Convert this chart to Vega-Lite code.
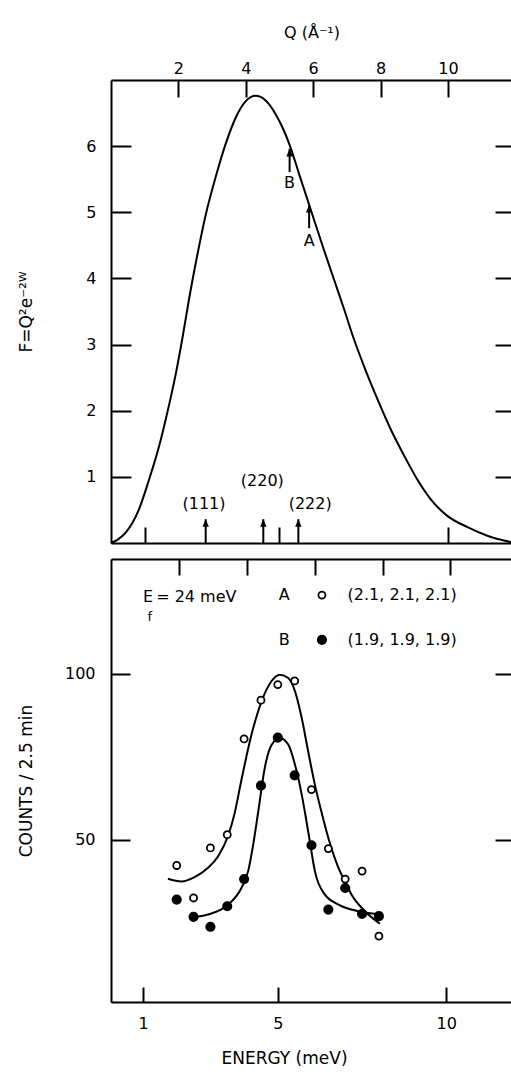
{
  "$schema": "https://vega.github.io/schema/vega-lite/v6.json",
  "background": "white",
  "padding": {"left": 17, "top": 24, "right": 0, "bottom": 0},
  "spacing": 11,
  "config": {
    "view": {"stroke": null},
    "font": "DejaVu Sans",
    "axis": {
      "grid": false,
      "domainColor": "black", "domainWidth": 2,
      "tickColor": "black", "tickWidth": 2,
      "labelColor": "black", "titleColor": "black",
      "labelFont": "DejaVu Sans", "titleFont": "DejaVu Sans",
      "labelFontSize": 16, "titleFontSize": 16, "titleFontWeight": "normal",
      "labelFlush": false
    }
  },
  "datasets": {
    "curve": [
      {"q": 0, "f": 0}, {"q": 0.2, "f": 0.05}, {"q": 0.44, "f": 0.16}, {"q": 0.83, "f": 0.51},
      {"q": 1.13, "f": 0.96}, {"q": 1.43, "f": 1.47}, {"q": 1.67, "f": 1.97}, {"q": 1.92, "f": 2.55},
      {"q": 2.12, "f": 3.1}, {"q": 2.32, "f": 3.7}, {"q": 2.56, "f": 4.35}, {"q": 2.81, "f": 4.96},
      {"q": 3.11, "f": 5.54}, {"q": 3.4, "f": 6.03}, {"q": 3.7, "f": 6.43}, {"q": 4.0, "f": 6.68},
      {"q": 4.29, "f": 6.76}, {"q": 4.59, "f": 6.69}, {"q": 4.89, "f": 6.48}, {"q": 5.1, "f": 6.27},
      {"q": 5.3, "f": 6.02}, {"q": 5.6, "f": 5.55}, {"q": 6.03, "f": 4.88}, {"q": 6.32, "f": 4.43},
      {"q": 6.62, "f": 3.98}, {"q": 6.92, "f": 3.53}, {"q": 7.21, "f": 3.08}, {"q": 7.51, "f": 2.67},
      {"q": 7.91, "f": 2.17}, {"q": 8.3, "f": 1.72}, {"q": 8.7, "f": 1.32}, {"q": 9.09, "f": 0.96},
      {"q": 9.49, "f": 0.66}, {"q": 9.98, "f": 0.41}, {"q": 10.58, "f": 0.24}, {"q": 11.17, "f": 0.11},
      {"q": 11.9, "f": 0.01}
    ],
    "arrows": [
      {"q": 5.30, "tip": 5.96, "base": 5.61},
      {"q": 5.88, "tip": 5.11, "base": 4.76},
      {"q": 2.81, "tip": 0.36, "base": 0},
      {"q": 4.52, "tip": 0.36, "base": 0},
      {"q": 5.56, "tip": 0.36, "base": 0}
    ],
    "toplabels": [
      {"q": 5.30, "f": 5.44, "t": "B"},
      {"q": 5.88, "f": 4.57, "t": "A"},
      {"q": 2.76, "f": 0.59, "t": "(111)"},
      {"q": 4.49, "f": 0.94, "t": "(220)"},
      {"q": 5.91, "f": 0.59, "t": "(222)"}
    ],
    "fitA": [
      {"e": 1.74, "c": 38.2}, {"e": 2.14, "c": 37.4}, {"e": 2.53, "c": 38.7}, {"e": 2.93, "c": 41.5},
      {"e": 3.23, "c": 45.0}, {"e": 3.53, "c": 51.3}, {"e": 3.72, "c": 58.0}, {"e": 3.92, "c": 68.0},
      {"e": 4.22, "c": 81.7}, {"e": 4.52, "c": 91.8}, {"e": 4.81, "c": 97.8}, {"e": 5.06, "c": 99.8},
      {"e": 5.31, "c": 98.8}, {"e": 5.51, "c": 94.8}, {"e": 5.71, "c": 86.7}, {"e": 5.90, "c": 76.7},
      {"e": 6.10, "c": 66.6}, {"e": 6.30, "c": 58.2}, {"e": 6.50, "c": 50.5}, {"e": 6.80, "c": 41.5},
      {"e": 7.00, "c": 37.2}, {"e": 7.19, "c": 33.4}, {"e": 7.59, "c": 28.4}, {"e": 8.03, "c": 24.6}
    ],
    "fitB": [
      {"e": 2.49, "c": 26.6}, {"e": 2.93, "c": 27.4}, {"e": 3.53, "c": 30.4}, {"e": 3.92, "c": 35.4},
      {"e": 4.12, "c": 40.5}, {"e": 4.27, "c": 48.5}, {"e": 4.42, "c": 58.5}, {"e": 4.62, "c": 72.0},
      {"e": 4.81, "c": 78.5}, {"e": 5.06, "c": 80.7}, {"e": 5.31, "c": 78.7}, {"e": 5.51, "c": 72.6},
      {"e": 5.71, "c": 63.6}, {"e": 5.85, "c": 55.6}, {"e": 5.95, "c": 49.5}, {"e": 6.10, "c": 40.5},
      {"e": 6.40, "c": 33.4}, {"e": 6.80, "c": 30.4}, {"e": 7.39, "c": 28.4}, {"e": 8.08, "c": 27.4}
    ],
    "obs": [
      {"series": "A", "e": 2.0, "c": 42.2}, {"series": "A", "e": 2.5, "c": 32.4}, {"series": "A", "e": 3.0, "c": 47.5},
      {"series": "A", "e": 3.5, "c": 51.5}, {"series": "A", "e": 4.0, "c": 80.4}, {"series": "A", "e": 4.5, "c": 92.1},
      {"series": "A", "e": 5.0, "c": 96.8}, {"series": "A", "e": 5.5, "c": 97.9}, {"series": "A", "e": 6.0, "c": 65.1},
      {"series": "A", "e": 6.5, "c": 47.3}, {"series": "A", "e": 7.0, "c": 38.1}, {"series": "A", "e": 7.5, "c": 40.5},
      {"series": "A", "e": 8.0, "c": 20.9},
      {"series": "B", "e": 2.0, "c": 31.9}, {"series": "B", "e": 2.5, "c": 26.7}, {"series": "B", "e": 3.0, "c": 23.7},
      {"series": "B", "e": 3.5, "c": 29.9}, {"series": "B", "e": 4.0, "c": 38.1}, {"series": "B", "e": 4.5, "c": 66.3},
      {"series": "B", "e": 5.0, "c": 80.8}, {"series": "B", "e": 5.5, "c": 69.4}, {"series": "B", "e": 6.0, "c": 48.3},
      {"series": "B", "e": 6.5, "c": 28.9}, {"series": "B", "e": 7.0, "c": 35.4}, {"series": "B", "e": 7.5, "c": 27.6},
      {"series": "B", "e": 8.0, "c": 26.9}
    ],
    "legendrows": [
      {"series": "A", "label": "A", "coords": "(2.1, 2.1, 2.1)", "e_label": 5.19, "e_sym": 6.31, "e_txt": 7.07, "c": 123.8},
      {"series": "B", "label": "B", "coords": "(1.9, 1.9, 1.9)", "e_label": 5.19, "e_sym": 6.31, "e_txt": 7.07, "c": 110.3}
    ],
    "efmain": [
      {"e": 1.0, "c": 123.2, "t": "E"},
      {"e": 1.39, "c": 123.2, "t": "= 24 meV"}
    ],
    "efsub": [
      {"e": 1.2, "c": 117.2, "t": "f"}
    ]
  },
  "vconcat": [
    {
      "width": 401,
      "height": 463,
      "layer": [
        {
          "data": {"name": "curve"},
          "mark": {"type": "line", "color": "black", "strokeWidth": 2, "interpolate": "monotone"},
          "encoding": {
            "x": {"field": "q", "type": "quantitative",
              "scale": {"domain": [0, 11.9], "nice": false, "zero": false},
              "axis": {"orient": "top", "values": [2, 4, 6, 8, 10], "tickSize": -17, "labelPadding": 21,
                "title": "Q (Å⁻¹)", "titlePadding": 20}},
            "y": {"field": "f", "type": "quantitative",
              "scale": {"domain": [0, 7], "nice": false},
              "axis": {"orient": "left", "values": [1, 2, 3, 4, 5, 6], "tickSize": -20, "labelPadding": 35,
                "title": "F=Q²e⁻²ᵂ", "titleFontSize": 17, "titlePadding": 50}}
          }
        },
        {
          "data": {"name": "arrows"},
          "mark": {"type": "rule", "color": "black", "strokeWidth": 2},
          "encoding": {
            "x": {"field": "q", "type": "quantitative",
              "axis": {"orient": "bottom", "values": [1, 5, 10], "tickSize": -16, "labels": false, "title": null}},
            "y": {"field": "base", "type": "quantitative",
              "axis": {"orient": "right", "values": [1, 2, 3, 4, 5, 6], "tickSize": -17, "labels": false, "domain": false, "title": null}},
            "y2": {"field": "tip"}
          }
        },
        {
          "data": {"name": "arrows"},
          "mark": {"type": "point", "shape": "M0,0L0.8,1.9L-0.8,1.9Z", "filled": true, "color": "black", "size": 64, "opacity": 1},
          "encoding": {
            "x": {"field": "q", "type": "quantitative", "axis": null},
            "y": {"field": "tip", "type": "quantitative", "axis": null}
          }
        },
        {
          "data": {"name": "toplabels"},
          "mark": {"type": "text", "fontSize": 16, "color": "black", "font": "DejaVu Sans"},
          "encoding": {
            "x": {"field": "q", "type": "quantitative", "axis": null},
            "y": {"field": "f", "type": "quantitative", "axis": null},
            "text": {"field": "t"}
          }
        }
      ],
      "resolve": {"axis": {"x": "independent", "y": "independent"}}
    },
    {
      "width": 401,
      "height": 443,
      "layer": [
        {
          "data": {"name": "fitA"},
          "mark": {"type": "line", "color": "black", "strokeWidth": 2, "interpolate": "monotone"},
          "encoding": {
            "x": {"field": "e", "type": "quantitative",
              "scale": {"domain": [0.05, 11.95], "nice": false, "zero": false},
              "axis": {"orient": "bottom", "values": [1, 5, 10], "tickSize": -15, "labelPadding": 28,
                "title": "ENERGY (meV)", "titleFontSize": 17, "titlePadding": 19, "titleX": 173}},
            "y": {"field": "c", "type": "quantitative",
              "scale": {"domain": [1, 134.7], "nice": false, "zero": false},
              "axis": {"orient": "left", "values": [50, 100], "tickSize": -19, "labelPadding": 35,
                "title": "COUNTS / 2.5 min", "titleFontSize": 17, "titlePadding": 29}}
          }
        },
        {
          "data": {"name": "fitB"},
          "mark": {"type": "line", "color": "black", "strokeWidth": 2, "interpolate": "monotone"},
          "encoding": {
            "x": {"field": "e", "type": "quantitative",
              "axis": {"orient": "top", "values": [2.07, 4.1, 6.1, 8.12, 10.1], "tickSize": -16, "labels": false, "title": null}},
            "y": {"field": "c", "type": "quantitative",
              "axis": {"orient": "right", "values": [50, 100], "tickSize": -17, "labels": false, "domain": false, "title": null}}
          }
        },
        {
          "data": {"name": "obs"},
          "mark": {"type": "point", "shape": "circle", "filled": true, "stroke": "black", "strokeWidth": 1.8, "opacity": 1},
          "encoding": {
            "x": {"field": "e", "type": "quantitative", "axis": null},
            "y": {"field": "c", "type": "quantitative", "axis": null},
            "fill": {"field": "series", "type": "nominal", "scale": {"domain": ["A", "B"], "range": ["white", "black"]}, "legend": null},
            "size": {"field": "series", "type": "nominal", "scale": {"domain": ["A", "B"], "range": [50, 70]}, "legend": null}
          }
        },
        {
          "data": {"name": "legendrows"},
          "mark": {"type": "point", "shape": "circle", "filled": true, "stroke": "black", "strokeWidth": 1.8, "opacity": 1},
          "encoding": {
            "x": {"field": "e_sym", "type": "quantitative", "axis": null},
            "y": {"field": "c", "type": "quantitative", "axis": null},
            "fill": {"field": "series", "type": "nominal", "scale": {"domain": ["A", "B"], "range": ["white", "black"]}, "legend": null},
            "size": {"field": "series", "type": "nominal", "scale": {"domain": ["A", "B"], "range": [50, 70]}, "legend": null}
          }
        },
        {
          "data": {"name": "legendrows"},
          "mark": {"type": "text", "fontSize": 16, "color": "black", "font": "DejaVu Sans"},
          "encoding": {
            "x": {"field": "e_label", "type": "quantitative", "axis": null},
            "y": {"field": "c", "type": "quantitative", "axis": null},
            "text": {"field": "label"}
          }
        },
        {
          "data": {"name": "legendrows"},
          "mark": {"type": "text", "fontSize": 16, "color": "black", "align": "left", "font": "DejaVu Sans"},
          "encoding": {
            "x": {"field": "e_txt", "type": "quantitative", "axis": null},
            "y": {"field": "c", "type": "quantitative", "axis": null},
            "text": {"field": "coords"}
          }
        },
        {
          "data": {"name": "efmain"},
          "mark": {"type": "text", "fontSize": 16, "color": "black", "align": "left", "font": "DejaVu Sans"},
          "encoding": {
            "x": {"field": "e", "type": "quantitative", "axis": null},
            "y": {"field": "c", "type": "quantitative", "axis": null},
            "text": {"field": "t"}
          }
        },
        {
          "data": {"name": "efsub"},
          "mark": {"type": "text", "fontSize": 13, "color": "black", "font": "DejaVu Sans"},
          "encoding": {
            "x": {"field": "e", "type": "quantitative", "axis": null},
            "y": {"field": "c", "type": "quantitative", "axis": null},
            "text": {"field": "t"}
          }
        }
      ],
      "resolve": {"axis": {"x": "independent", "y": "independent"}}
    }
  ]
}
